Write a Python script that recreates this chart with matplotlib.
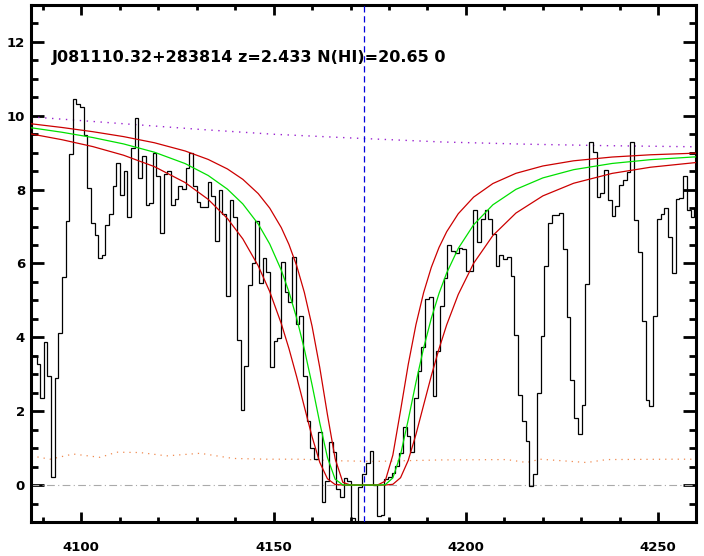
import numpy as np
import matplotlib.pyplot as plt
from matplotlib.ticker import MultipleLocator

plt.rcParams['font.family'] = ['DejaVu Sans']
plt.rcParams['font.weight'] = 'bold'

# ----- data ---------------------------------------------------------

# spectrum on the SDSS log-lambda grid (bin centres)
loglam0 = 3.6114
dloglam = 1e-4
flux = [
    3.50, 3.50, 3.27, 2.35, 3.87, 2.94, 0.23, 2.91, 4.11, 5.63,
    7.14, 8.96, 10.46, 10.33, 10.23, 9.47, 8.04, 7.09, 6.78, 6.14,
    6.23, 7.03, 7.34, 8.11, 8.73, 7.86, 8.50, 7.25, 9.12, 9.94,
    8.32, 8.90, 7.59, 7.64, 8.98, 8.38, 6.83, 8.41, 8.50, 7.59,
    7.75, 8.09, 8.02, 8.58, 8.98, 8.09, 7.66, 7.52, 7.52, 8.20,
    7.84, 6.60, 7.98, 7.34, 5.13, 7.73, 7.25, 3.92, 2.04, 3.22,
    5.42, 6.02, 7.15, 5.47, 6.15, 5.76, 3.19, 3.91, 3.98, 6.04,
    5.22, 4.95, 6.17, 4.35, 4.57, 2.94, 1.73, 0.99, 0.70, 1.43,
    -0.47, 0.12, 1.17, 0.90, -0.11, -0.33, 0.19, 0.12, -0.88, -1.30,
    -0.06, 0.30, 0.61, 0.93, 0.00, -0.85, -0.80, 0.16, 0.21, 0.33,
    0.52, 0.87, 1.56, 1.32, 0.90, 2.35, 3.10, 3.75, 5.05, 5.09,
    2.42, 3.64, 4.86, 5.62, 6.51, 6.33, 6.29, 6.42, 6.38, 5.79,
    5.79, 7.46, 6.58, 7.21, 7.45, 7.21, 6.80, 5.94, 6.22, 6.12,
    6.17, 5.67, 4.07, 2.45, 1.73, 1.18, -0.02, 0.30, 2.48, 4.03,
    5.93, 7.10, 7.32, 7.32, 7.36, 6.40, 4.54, 2.85, 1.81, 1.38,
    2.17, 5.44, 9.29, 9.03, 7.80, 7.91, 8.52, 7.72, 7.28, 7.55,
    8.13, 8.27, 8.47, 9.30, 7.19, 6.32, 4.45, 2.29, 2.13, 4.59,
    7.21, 7.33, 7.50, 6.71, 5.75, 7.75, 7.78, 8.36, 7.46, 7.25,
    7.50,
]

# error array (dotted orange)
err_wave = [4087.0, 4091.9, 4097.9, 4104.9, 4109.2, 4115.3, 4122.2, 4130.9,
            4139.5, 4148.2, 4156.9, 4165.5, 4175.9, 4193.3, 4210.6, 4215.8,
            4219.3, 4231.4, 4236.6, 4253.9, 4260.0]
err_flux = [0.79, 0.70, 0.84, 0.75, 0.89, 0.88, 0.79, 0.86,
            0.72, 0.70, 0.70, 0.66, 0.64, 0.68, 0.69, 0.61,
            0.70, 0.61, 0.69, 0.70, 0.70]

# continuum (dotted purple)
cont_wave = [4087, 4109, 4131, 4150, 4170, 4194, 4216, 4237, 4260]
cont_flux = [9.97, 9.80, 9.63, 9.50, 9.40, 9.29, 9.23, 9.19, 9.16]

# damped Ly-alpha fits: best (green) and +/- bounds (red)
fit_wave = [4087, 4095, 4103, 4111, 4119, 4127, 4133, 4138, 4142, 4146,
            4149, 4152, 4154, 4156, 4158, 4160, 4162, 4164, 4166, 4168,
            4170, 4173.4, 4177, 4179, 4181, 4183, 4185, 4187, 4189, 4191,
            4193, 4195, 4198, 4202, 4207, 4213, 4220, 4228, 4238, 4248,
            4260]
fit_best = [9.675, 9.554, 9.411, 9.238, 9.014, 8.706, 8.383, 8.013, 7.613, 7.070,
            6.526, 5.819, 5.228, 4.519, 3.679, 2.715, 1.685, 0.747, 0.158, 0.004,
            0.0, 0.0, 0.0, 0.007, 0.193, 0.822, 1.766, 2.777, 3.710, 4.515,
            5.188, 5.746, 6.408, 7.048, 7.589, 8.008, 8.318, 8.541, 8.709, 8.812,
            8.890]
fit_low = [9.507, 9.352, 9.166, 8.932, 8.624, 8.192, 7.736, 7.218, 6.666, 5.937,
           5.237, 4.372, 3.692, 2.932, 2.118, 1.309, 0.615, 0.170, 0.014, 0.0,
           0.0, 0.0, 0.0, 0.0, 0.020, 0.198, 0.667, 1.368, 2.166, 2.958,
           3.689, 4.340, 5.161, 6.005, 6.757, 7.366, 7.831, 8.173, 8.440, 8.607,
           8.736]
fit_high = [9.783, 9.683, 9.569, 9.436, 9.270, 9.047, 8.818, 8.560, 8.279, 7.893,
            7.499, 6.971, 6.513, 5.939, 5.214, 4.303, 3.184, 1.905, 0.713, 0.074,
            0.0, 0.0, 0.0, 0.103, 0.810, 2.016, 3.265, 4.342, 5.211, 5.896,
            6.434, 6.861, 7.347, 7.798, 8.165, 8.442, 8.641, 8.781, 8.883, 8.944,
            8.989]

lya_rest = 1215.67
zabs = 2.433
title = "J081110.32+283814 z=2.433 N(HI)=20.65 0"

# ----- plot ---------------------------------------------------------

fig = plt.figure(figsize=(7.04, 5.56), dpi=100)
ax = fig.add_axes([0.044, 0.0612, 0.9446, 0.9298])

edges = 10 ** (loglam0 - dloglam / 2 + dloglam * np.arange(len(flux) + 1))
ax.stairs(flux, edges, baseline=None, color='black', lw=0.9, zorder=3)

ax.plot(cont_wave, cont_flux, color='#9a22d0', lw=1.0, ls=(0, (1, 4)))
ax.plot(err_wave, err_flux, color='#f08a50', lw=0.9, ls=(0, (1, 4)))
ax.axhline(0, color='#aaaaaa', lw=0.8, ls=(0, (7, 3, 1, 3)))

ax.plot(fit_wave, fit_low, color='#cc0000', lw=0.9, zorder=4)
ax.plot(fit_wave, fit_high, color='#cc0000', lw=0.9, zorder=4)
ax.plot(fit_wave, fit_best, color='#00e000', lw=0.9, zorder=4)

ax.axvline(lya_rest * (1 + zabs), color='#0000dd', lw=0.9, ls=(0, (5, 3)), zorder=5)

ax.text(4092.4, 11.58, title, fontsize=11.5, fontweight='bold', va='center', ha='left')

# ----- formatting ---------------------------------------------------

ax.set_xlim(4086.93, 4259.8)
ax.set_ylim(-1, 13)
ax.set_xticks([4100, 4150, 4200, 4250])
ax.xaxis.set_minor_locator(MultipleLocator(10))
ax.set_yticks([0, 2, 4, 6, 8, 10, 12])
ax.yaxis.set_minor_locator(MultipleLocator(0.5))

ax.tick_params(which='both', direction='in', top=True, right=True, width=2,
               labelsize=9.5)
ax.xaxis.set_tick_params(which='major', length=7.2, pad=14)
ax.xaxis.set_tick_params(which='minor', length=3.6)
ax.yaxis.set_tick_params(which='major', length=9.7, pad=4.3)
ax.yaxis.set_tick_params(which='minor', length=4.7)
for s in ax.spines.values():
    s.set_linewidth(2.2)

plt.savefig("out.png", dpi=100)
